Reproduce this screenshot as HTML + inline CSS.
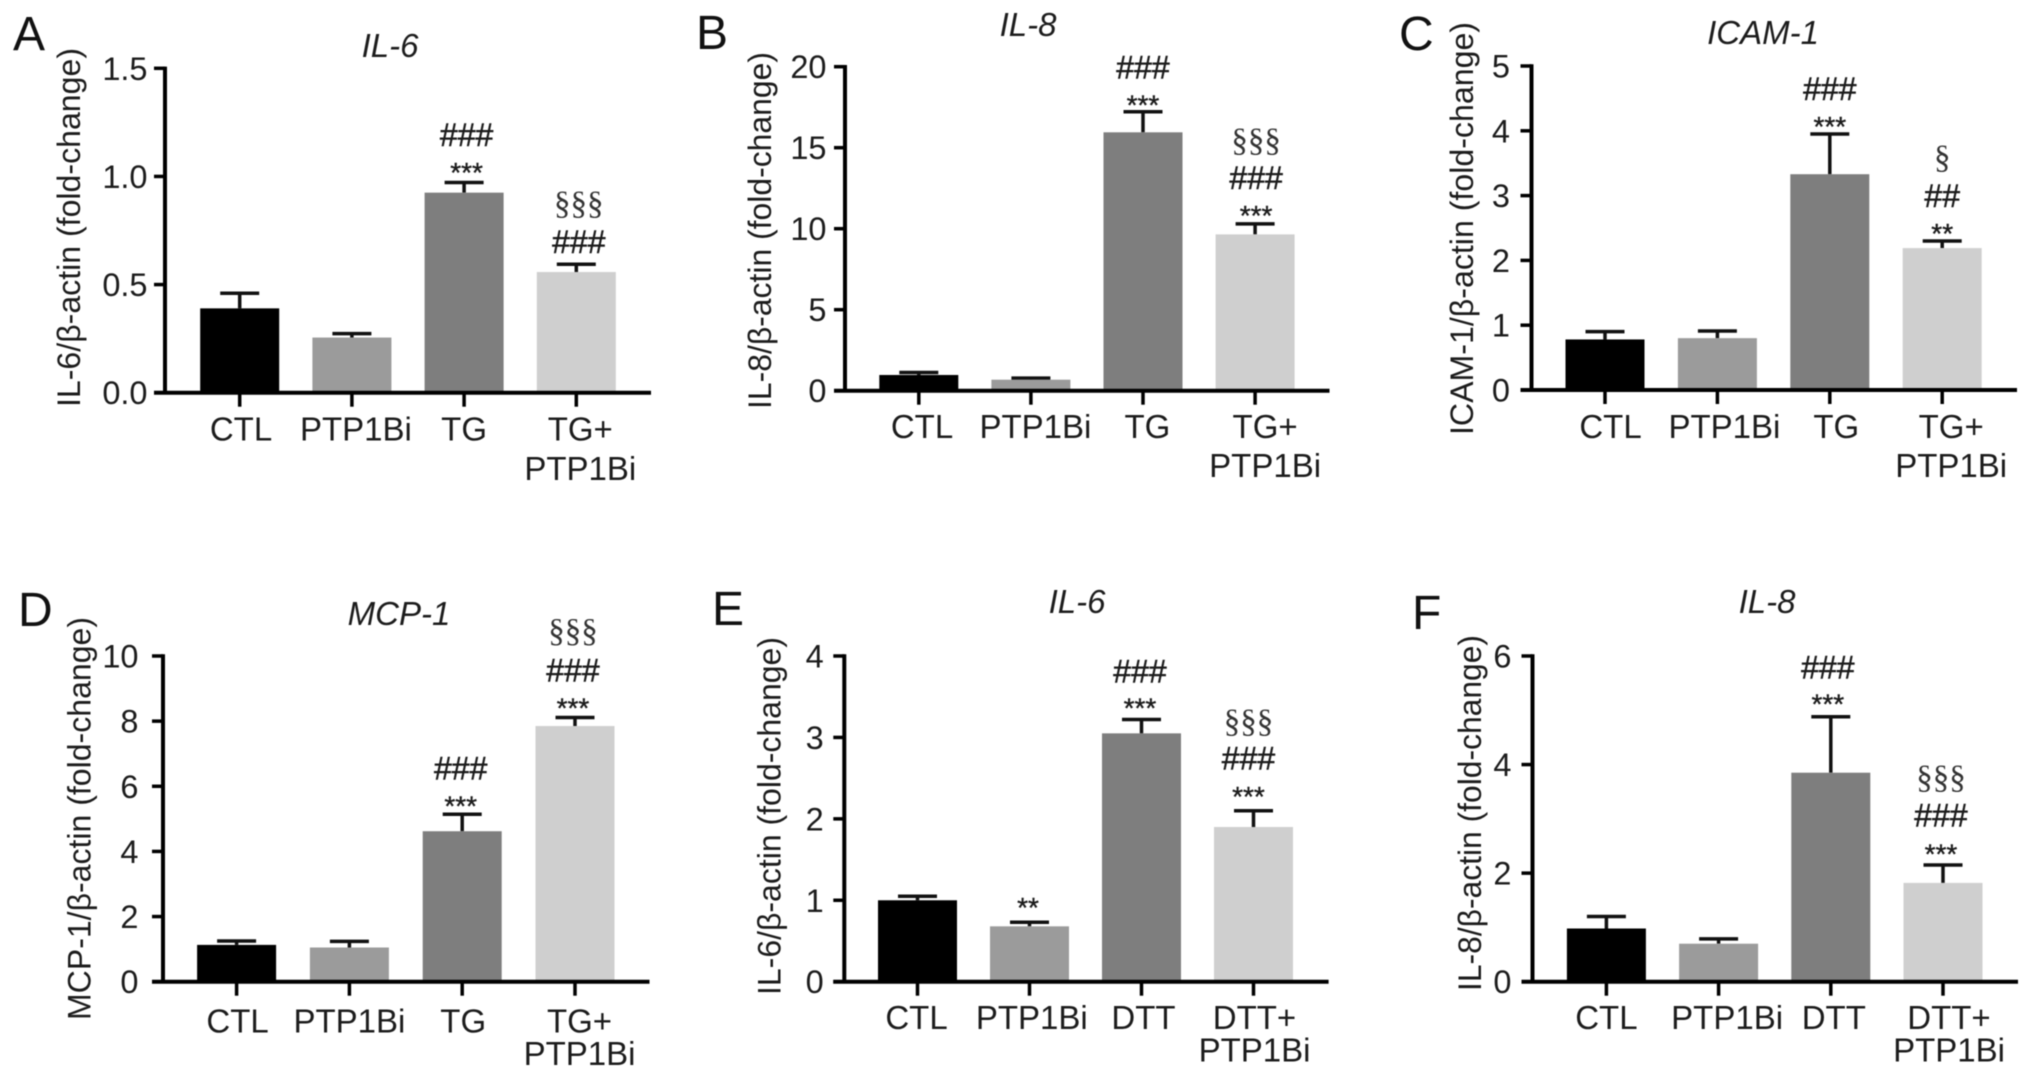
<!DOCTYPE html>
<html lang="en">
<head>
<meta charset="utf-8">
<title>Fold-change bar charts, panels A–F</title>
<style>
  html, body { margin: 0; padding: 0; background: #fff; }
  svg { display: block; filter: blur(0.5px); }
  text { font-family: "Liberation Sans", "DejaVu Sans", sans-serif; fill: #1c1c1c; }
  .letter { font-size: 48px; fill: #111; }
  .title { font-size: 33px; font-style: italic; text-anchor: middle; }
  .ytitle { font-size: 32px; text-anchor: middle; }
  .tick { font-size: 32.5px; text-anchor: end; }
  .cat { font-size: 33px; text-anchor: middle; }
</style>
</head>
<body>
<svg id="figure" xmlns="http://www.w3.org/2000/svg" width="2032" height="1078" viewBox="0 0 2032 1078">
  <rect width="2032" height="1078" fill="#fff"/>

  <g id="panel-a">
    <text class="letter" x="13" y="50">A</text>
    <text class="title" x="390" y="57">IL-6</text>
    <text class="ytitle" transform="translate(80 227.5) rotate(-90)" textLength="359" lengthAdjust="spacingAndGlyphs">IL-6/β-actin (fold-change)</text>
  </g>
  <g id="panel-b">
    <text class="letter" x="696" y="49">B</text>
    <text class="title" x="1028" y="36">IL-8</text>
    <text class="ytitle" transform="translate(771 230.5) rotate(-90)" textLength="357" lengthAdjust="spacingAndGlyphs">IL-8/β-actin (fold-change)</text>
  </g>
  <g id="panel-c">
    <text class="letter" x="1399" y="50">C</text>
    <text class="title" x="1763" y="44">ICAM-1</text>
    <text class="ytitle" transform="translate(1473 228.5) rotate(-90)" textLength="413" lengthAdjust="spacingAndGlyphs">ICAM-1/β-actin (fold-change)</text>
  </g>
  <g id="panel-d">
    <text class="letter" x="18" y="626">D</text>
    <text class="title" x="399" y="625">MCP-1</text>
    <text class="ytitle" transform="translate(90.5 818.5) rotate(-90)" textLength="403" lengthAdjust="spacingAndGlyphs">MCP-1/β-actin (fold-change)</text>
  </g>
  <g id="panel-e">
    <text class="letter" x="712" y="625">E</text>
    <text class="title" x="1077" y="613">IL-6</text>
    <text class="ytitle" transform="translate(780.5 816) rotate(-90)" textLength="358" lengthAdjust="spacingAndGlyphs">IL-6/β-actin (fold-change)</text>
  </g>
  <g id="panel-f">
    <text class="letter" x="1412" y="629">F</text>
    <text class="title" x="1767" y="613">IL-8</text>
    <text class="ytitle" transform="translate(1481 813) rotate(-90)" textLength="356" lengthAdjust="spacingAndGlyphs">IL-8/β-actin (fold-change)</text>
  </g>
</svg>

<script>
// ---- chart data ----
const categoriesTG = ['CTL', 'PTP1Bi', 'TG', 'TG+|PTP1Bi'];
const categoriesDTT = ['CTL', 'PTP1Bi', 'DTT', 'DTT+|PTP1Bi'];

const ticksA = ['0.0', '0.5', '1.0', '1.5'];
const ticksB = ['0', '5', '10', '15', '20'];
const ticksC = ['0', '1', '2', '3', '4', '5'];
const ticksD = ['0', '2', '4', '6', '8', '10'];
const ticksE = ['0', '1', '2', '3', '4'];
const ticksF = ['0', '2', '4', '6'];

const valuesA = [0.39, 0.255, 0.925, 0.558];
const errorsA = [0.07, 0.018, 0.047, 0.036];
const valuesB = [0.97, 0.68, 15.95, 9.65];
const errorsB = [0.15, 0.1, 1.27, 0.65];
const valuesC = [0.78, 0.8, 3.33, 2.19];
const errorsC = [0.12, 0.11, 0.62, 0.11];
const valuesD = [1.13, 1.05, 4.62, 7.85];
const errorsD = [0.12, 0.19, 0.52, 0.26];
const valuesE = [1.0, 0.68, 3.05, 1.9];
const errorsE = [0.05, 0.05, 0.17, 0.2];
const valuesF = [0.98, 0.7, 3.85, 1.82];
const errorsF = [0.22, 0.09, 1.03, 0.33];

const marksA = [[], [], ['***', '###'], ['###', '§§§']];
const marksB = [[], [], ['***', '###'], ['***', '###', '§§§']];
const marksC = [[], [], ['***', '###'], ['**', '##', '§']];
const marksD = [[], [], ['***', '###'], ['***', '###', '§§§']];
const marksE = [[], ['**'], ['***', '###'], ['***', '###', '§§§']];
const marksF = [[], [], ['***', '###'], ['***', '###', '§§§']];

// ---- layout (pixels, separate from the data) ----
const barFills = ['#000000', '#9b9b9b', '#7e7e7e', '#cfcfcf'];
const layouts = {
  a: { axisX: 165, y0: 392.7, top: 68.3, right: 651, x0: 239.7, step: 112.2, tickRight: 147.5, row1: 440.7, rowGap: 39.3,
       catDx: [1.3, 4, 0, 4], markDx: [0, 0, 2.5, 2.5], markDy: [[], [], [-14.7, -45.7], [-20, -58]] },
  b: { axisX: 845, y0: 390.7, top: 66.7, right: 1329.5, x0: 918.8, step: 112.1, tickRight: 826.5, row1: 438, rowGap: 39,
       catDx: [3.2, 4.5, 4.4, 10], markDx: [0, 0, 0, 1], markDy: [[], [], [-11, -42], [-13, -44, -81]] },
  c: { axisX: 1531.5, y0: 390, top: 66, right: 2017, x0: 1605, step: 112.4, tickRight: 1510, row1: 438, rowGap: 39,
       catDx: [5.5, 7, 6.5, 9], markDx: [0, 0, 0, 0], markDy: [[], [], [-12, -43], [-12, -43, -81]] },
  d: { axisX: 163, y0: 981.7, top: 656, right: 649.5, x0: 236.6, step: 112.8, tickRight: 138.5, row1: 1032.7, rowGap: 32.5,
       catDx: [1, 0, 1, 4.5], markDx: [0, 0, -1.5, -2], markDy: [[], [], [-12.6, -43.6], [-14, -45.3, -84]] },
  e: { axisX: 844.3, y0: 981.7, top: 656, right: 1328.6, x0: 917.5, step: 112, tickRight: 823.7, row1: 1029, rowGap: 32.7,
       catDx: [-1, 2.3, 2, 1], markDx: [0, -1.5, -1.5, -5], markDy: [[], [-19.3], [-16, -46], [-18.7, -50, -86.7]] },
  f: { axisX: 1532.5, y0: 981.7, top: 656, right: 2018, x0: 1606.4, step: 112.2, tickRight: 1511.4, row1: 1029, rowGap: 32.7,
       catDx: [0, 8.5, 3, 6], markDx: [0, 0, -3, -2], markDy: [[], [], [-17.4, -47.4], [-15.7, -47.7, -85]] }
};

const panels = [
  { id: 'a', cats: categoriesTG, ticks: ticksA, values: valuesA, errors: errorsA, marks: marksA },
  { id: 'b', cats: categoriesTG, ticks: ticksB, values: valuesB, errors: errorsB, marks: marksB },
  { id: 'c', cats: categoriesTG, ticks: ticksC, values: valuesC, errors: errorsC, marks: marksC },
  { id: 'd', cats: categoriesTG, ticks: ticksD, values: valuesD, errors: errorsD, marks: marksD },
  { id: 'e', cats: categoriesDTT, ticks: ticksE, values: valuesE, errors: errorsE, marks: marksE },
  { id: 'f', cats: categoriesDTT, ticks: ticksF, values: valuesF, errors: errorsF, marks: marksF }
];

// ---- drawing ----
const NS = 'http://www.w3.org/2000/svg';
function make(parent, tag, props, content) {
  const el = document.createElementNS(NS, tag);
  Object.keys(props).forEach(function (k) { el.setAttribute(k, props[k]); });
  if (content !== undefined) el.textContent = content;
  parent.appendChild(el);
  return el;
}

panels.forEach(function (p) {
  const L = layouts[p.id];
  const g = document.getElementById('panel-' + p.id);
  const yMax = Number(p.ticks[p.ticks.length - 1]);
  const yScale = function (v) { return L.y0 - (v / yMax) * (L.y0 - L.top); };
  const xBand = function (i) { return L.x0 + i * L.step; };
  const barWidth = 79;
  const capWidth = 39;

  p.values.forEach(function (value, i) {
    const cx = xBand(i);
    const yTop = yScale(value);
    const yErr = yScale(value + p.errors[i]);

    const stem = make(g, 'line', { x1: cx, x2: cx, y1: yTop, y2: yErr, stroke: '#111', 'stroke-width': 3.5 });
    
    

    const cap = make(g, 'line', { x1: cx - capWidth / 2, x2: cx + capWidth / 2, y1: yErr, y2: yErr, stroke: '#111', 'stroke-width': 3.5 });
    
    

    const bar = make(g, 'rect', { x: cx - barWidth / 2, y: yTop, width: barWidth, height: L.y0 - yTop, fill: barFills[i] });
    
    

    p.marks[i].forEach(function (label, j) {
      const center = yErr + L.markDy[i][j] - 2;
      const x = cx + L.markDx[i];
      let props;
      if (label.charAt(0) === '*') {
        props = { x: x, y: center + 16, 'text-anchor': 'middle', style: 'font-size:28px;stroke:#1c1c1c;stroke-width:.4px' };
      } else if (label.charAt(0) === '#') {
        props = { x: x, y: center + 11, 'text-anchor': 'middle', style: 'font-size:32px;stroke:#1c1c1c;stroke-width:.5px' };
      } else {
        props = { x: x, y: center + 10, 'text-anchor': 'middle', style: 'font-size:33px;font-family:"Liberation Serif",serif;fill:#333' };
      }
      const mark = make(g, 'text', props, label);
      
      
    });
  });

  const yAxis = make(g, 'line', { x1: L.axisX, x2: L.axisX, y1: L.top - 1.7, y2: L.y0 + 1.7, stroke: '#000', 'stroke-width': 4 });
  
  

  const xAxis = make(g, 'line', { x1: L.axisX - 11, x2: L.right, y1: L.y0, y2: L.y0, stroke: '#000', 'stroke-width': 4 });
  
  

  p.ticks.forEach(function (label) {
    const y = yScale(Number(label));
    const tick = make(g, 'line', { x1: L.axisX - 11, x2: L.axisX, y1: y, y2: y, stroke: '#000', 'stroke-width': 3.5 });
    
    

    const text = make(g, 'text', { class: 'tick', x: L.tickRight, y: y + 11.5 }, label);
    
    
  });

  p.cats.forEach(function (name, i) {
    const cx = xBand(i);
    const tick = make(g, 'line', { x1: cx, x2: cx, y1: L.y0, y2: L.y0 + 14, stroke: '#000', 'stroke-width': 3.5 });
    
    

    name.split('|').forEach(function (line, r) {
      const text = make(g, 'text', { class: 'cat', x: cx + L.catDx[i], y: L.row1 + r * L.rowGap }, line);
      
      
    });
  });
});
</script>
</body>
</html>
